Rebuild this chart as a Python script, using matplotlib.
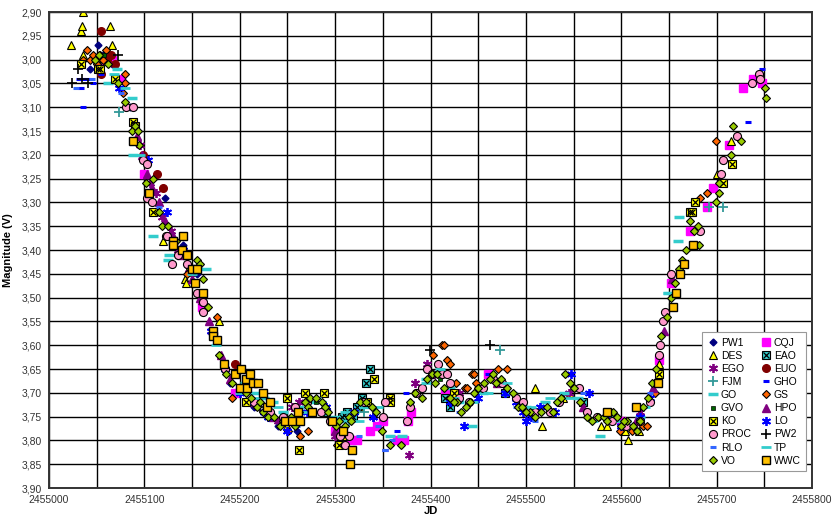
import matplotlib
matplotlib.use("Agg")
import matplotlib.pyplot as plt
from matplotlib.ticker import MultipleLocator, FuncFormatter

plt.rcParams['font.family'] = ['Liberation Sans', 'DejaVu Sans']

JD0 = 2455000

# observations per observer: (JD - 2455000, V magnitude)
PW1 = [(43, 3.02), (51, 2.97), (57, 2.99), (66, 3.01), (85, 3.10), (122, 3.29), (140, 3.39),
       (155, 3.45), (165, 3.52), (190, 3.68), (215, 3.73), (240, 3.77), (260, 3.78)]
CQJ = [(60, 3.00), (66, 3.00), (75, 3.04), (100, 3.24), (160, 3.52), (195, 3.70), (300, 3.78),
       (310, 3.79), (316, 3.80), (323, 3.80), (337, 3.78), (344, 3.77), (350, 3.76), (365, 3.80),
       (372, 3.80), (376, 3.76), (380, 3.74), (415, 3.70), (460, 3.66), (600, 3.76), (640, 3.63),
       (652, 3.47), (672, 3.36), (690, 3.31), (696, 3.27), (713, 3.18), (728, 3.06), (738, 3.04),
       (748, 3.05)]
DES = [(23, 2.97), (34, 2.94), (35, 2.93), (36, 2.90), (36, 2.99), (50, 3.00), (64, 2.93),
       (66, 2.97), (120, 3.38), (143, 3.46), (144, 3.47), (178, 3.55), (250, 3.77), (325, 3.73),
       (510, 3.69), (517, 3.77), (539, 3.71), (546, 3.70), (579, 3.77), (585, 3.77), (604, 3.78),
       (607, 3.80), (619, 3.78), (640, 3.64), (700, 3.24), (715, 3.17)]
EAO = [(290, 3.74), (300, 3.76), (307, 3.75), (312, 3.74), (319, 3.75), (323, 3.73), (328, 3.71),
       (332, 3.68), (337, 3.65), (415, 3.71), (420, 3.73), (478, 3.70), (560, 3.72)]
EGO = [(90, 3.14), (95, 3.18), (100, 3.21), (106, 3.26), (112, 3.28), (118, 3.33), (128, 3.36),
       (135, 3.40), (147, 3.44), (160, 3.51), (170, 3.57), (185, 3.65), (240, 3.76), (255, 3.73),
       (262, 3.72), (300, 3.79), (340, 3.75), (377, 3.83), (384, 3.68), (396, 3.64), (412, 3.66),
       (430, 3.70), (545, 3.70), (620, 3.74)]
EUO = [(55, 2.94), (55, 3.03), (61, 3.00), (65, 2.99), (69, 3.01), (98, 3.20), (113, 3.24),
       (120, 3.27), (195, 3.64)]
FJM = [(73, 3.11), (315, 3.76), (330, 3.74), (473, 3.61), (692, 3.31), (707, 3.31)]
GHO = [(31, 3.04), (33, 3.06), (35, 3.04), (36, 3.10), (40, 3.04), (46, 3.05), (55, 3.03),
       (352, 3.82), (358, 3.81), (365, 3.78), (374, 3.70), (460, 3.66), (733, 3.13), (748, 3.02)]
GO = [(62, 3.05), (71, 3.02), (87, 3.08), (88, 3.20), (109, 3.37), (125, 3.42), (126, 3.41),
      (165, 3.44), (205, 3.68), (225, 3.71), (245, 3.74), (262, 3.73), (285, 3.72), (300, 3.75),
      (320, 3.74), (357, 3.79), (370, 3.79), (405, 3.66), (420, 3.69), (443, 3.77), (470, 3.67),
      (500, 3.73), (540, 3.70), (578, 3.79), (590, 3.75), (620, 3.75), (649, 3.49), (659, 3.38),
      (661, 3.33), (215, 3.70), (235, 3.72), (255, 3.75), (275, 3.72), (310, 3.76), (330, 3.73),
      (395, 3.67), (430, 3.72), (455, 3.70), (485, 3.70), (520, 3.72), (555, 3.71), (605, 3.76)]
GS = [(36, 3.00), (40, 2.98), (43, 3.00), (46, 2.99), (50, 3.01), (53, 2.99), (57, 3.00),
      (60, 2.98), (78, 3.07), (80, 3.03), (80, 3.05), (145, 3.45), (176, 3.54), (192, 3.71),
      (251, 3.78), (263, 3.79), (272, 3.78), (302, 3.81), (403, 3.62), (412, 3.60), (414, 3.60),
      (417, 3.63), (420, 3.64), (427, 3.68), (436, 3.69), (438, 3.69), (443, 3.66), (446, 3.66),
      (448, 3.68), (450, 3.69), (471, 3.65), (480, 3.65), (599, 3.78), (611, 3.78), (623, 3.77),
      (627, 3.77), (635, 3.70), (683, 3.29), (690, 3.28), (699, 3.17)]
GVO = [(58, 2.99), (150, 3.45), (230, 3.74), (280, 3.72), (410, 3.67), (520, 3.73), (600, 3.77)]
HPO = [(92, 3.16), (97, 3.20), (103, 3.24), (108, 3.27), (115, 3.30), (122, 3.34), (130, 3.37),
       (138, 3.41), (150, 3.46), (158, 3.50), (168, 3.55), (180, 3.62), (190, 3.67), (215, 3.72),
       (235, 3.75), (300, 3.78), (400, 3.66), (470, 3.68), (560, 3.73), (615, 3.76), (633, 3.69),
       (645, 3.57), (653, 3.46)]
KO = [(34, 3.01), (51, 3.02), (53, 3.02), (69, 3.04), (88, 3.13), (90, 3.14), (109, 3.32),
      (206, 3.72), (249, 3.71), (262, 3.82), (268, 3.70), (288, 3.70), (304, 3.81), (310, 3.79),
      (333, 3.72), (341, 3.67), (357, 3.71), (358, 3.72), (425, 3.70), (640, 3.66), (672, 3.32),
      (674, 3.32), (677, 3.30), (707, 3.26), (716, 3.22)]
LO = [(73, 3.06), (104, 3.21), (124, 3.32), (140, 3.40), (170, 3.57), (185, 3.65), (200, 3.70),
      (215, 3.72), (230, 3.75), (250, 3.78), (290, 3.73), (320, 3.74), (340, 3.75), (420, 3.72),
      (435, 3.77), (478, 3.70), (497, 3.74), (500, 3.76), (505, 3.75), (515, 3.73), (547, 3.66),
      (566, 3.70), (585, 3.75), (600, 3.77), (620, 3.75), (630, 3.71), (225, 3.74), (270, 3.74),
      (450, 3.71), (490, 3.72), (530, 3.74)]
PROC = [(81, 3.10), (88, 3.10), (98, 3.21), (103, 3.22), (103, 3.29), (108, 3.30), (123, 3.37),
        (124, 3.37), (129, 3.43), (135, 3.41), (145, 3.43), (155, 3.49), (161, 3.51), (161, 3.53),
        (185, 3.65), (200, 3.69), (215, 3.72), (232, 3.74), (245, 3.75), (258, 3.73), (270, 3.72),
        (285, 3.74), (295, 3.76), (305, 3.79), (310, 3.81), (315, 3.79), (330, 3.72), (350, 3.75),
        (352, 3.72), (375, 3.76), (378, 3.73), (385, 3.70), (391, 3.69), (396, 3.65), (402, 3.66),
        (408, 3.64), (412, 3.66), (417, 3.66), (420, 3.68), (430, 3.71), (440, 3.72), (455, 3.69),
        (465, 3.67), (475, 3.68), (490, 3.71), (497, 3.72), (510, 3.74), (525, 3.74), (535, 3.72),
        (556, 3.69), (564, 3.74), (575, 3.75), (590, 3.76), (605, 3.77), (620, 3.76), (630, 3.72),
        (640, 3.62), (641, 3.60), (644, 3.55), (646, 3.53), (652, 3.45), (683, 3.36), (705, 3.24),
        (707, 3.21), (721, 3.16), (737, 3.05), (744, 3.03), (745, 3.04)]
PW2 = [(24, 3.05), (30, 3.02), (35, 3.04), (41, 3.05), (72, 2.99), (221, 3.73), (399, 3.61),
       (462, 3.60)]
RLO = [(28, 3.06), (45, 3.04), (75, 3.07), (115, 3.31), (260, 3.77), (325, 3.79), (345, 3.77),
       (352, 3.82), (360, 3.80), (380, 3.72), (430, 3.74), (490, 3.73), (510, 3.76), (560, 3.70),
       (630, 3.70)]
TP = [(68, 3.03), (80, 3.06), (95, 3.20), (150, 3.45), (175, 3.60), (200, 3.70), (220, 3.71),
      (240, 3.73), (265, 3.74), (280, 3.71), (310, 3.74), (325, 3.76), (345, 3.73), (395, 3.68),
      (410, 3.65), (425, 3.71), (445, 3.72), (460, 3.70), (480, 3.68), (505, 3.73), (525, 3.71),
      (545, 3.71), (570, 3.76), (600, 3.76), (625, 3.73), (649, 3.49)]
VO = [(48, 3.00), (52, 2.99), (62, 3.01), (72, 3.05), (80, 3.09), (87, 3.15), (90, 3.14),
      (93, 3.15), (94, 3.18), (102, 3.26), (109, 3.25), (115, 3.32), (118, 3.35), (125, 3.35),
      (133, 3.38), (140, 3.40), (148, 3.44), (155, 3.42), (158, 3.43), (161, 3.46), (167, 3.52),
      (172, 3.57), (178, 3.62), (186, 3.66), (192, 3.68), (200, 3.69), (206, 3.70), (212, 3.71),
      (218, 3.73), (224, 3.74), (230, 3.75), (236, 3.75), (242, 3.77), (248, 3.76), (254, 3.75),
      (258, 3.77), (262, 3.74), (268, 3.72), (274, 3.71), (280, 3.71), (286, 3.72), (292, 3.74),
      (298, 3.76), (304, 3.76), (310, 3.77), (314, 3.75), (320, 3.74), (326, 3.72), (332, 3.72),
      (343, 3.74), (349, 3.78), (357, 3.81), (369, 3.81), (378, 3.72), (384, 3.70), (391, 3.71),
      (396, 3.67), (402, 3.66), (407, 3.66), (414, 3.69), (420, 3.71), (428, 3.72), (432, 3.74),
      (437, 3.73), (441, 3.72), (450, 3.69), (456, 3.68), (462, 3.67), (469, 3.68), (474, 3.67),
      (480, 3.69), (486, 3.70), (492, 3.73), (496, 3.73), (504, 3.74), (510, 3.75), (516, 3.74),
      (522, 3.73), (528, 3.74), (533, 3.72), (541, 3.66), (546, 3.68), (550, 3.69), (557, 3.72),
      (564, 3.75), (569, 3.76), (576, 3.75), (582, 3.75), (591, 3.74), (595, 3.75), (600, 3.77),
      (606, 3.76), (612, 3.77), (616, 3.78), (623, 3.73), (628, 3.71), (632, 3.68), (636, 3.65),
      (642, 3.58), (648, 3.54), (652, 3.50), (656, 3.47), (660, 3.44), (664, 3.42), (668, 3.40),
      (672, 3.34), (676, 3.36), (680, 3.35), (681, 3.39), (699, 3.30), (702, 3.26), (702, 3.28),
      (715, 3.20), (717, 3.14), (726, 3.17), (751, 3.06), (752, 3.08), (221, 3.72), (245, 3.76),
      (271, 3.73), (289, 3.73), (301, 3.77), (317, 3.76), (339, 3.73), (405, 3.68), (425, 3.72),
      (446, 3.70), (465, 3.66), (500, 3.74), (537, 3.71), (585, 3.76), (603, 3.76), (620, 3.76)]
WWC = [(88, 3.17), (105, 3.28), (130, 3.38), (130, 3.39), (139, 3.40), (140, 3.37), (145, 3.41),
       (150, 3.44), (153, 3.47), (155, 3.44), (161, 3.49), (172, 3.57), (172, 3.58), (176, 3.59),
       (183, 3.64), (195, 3.66), (200, 3.69), (201, 3.65), (207, 3.67), (208, 3.69), (211, 3.66),
       (214, 3.68), (219, 3.68), (224, 3.70), (229, 3.73), (232, 3.72), (247, 3.76), (255, 3.76),
       (261, 3.74), (263, 3.76), (276, 3.74), (297, 3.76), (308, 3.78), (316, 3.85), (318, 3.82),
       (585, 3.74), (615, 3.73), (638, 3.68), (654, 3.52), (657, 3.49), (662, 3.45), (666, 3.43),
       (675, 3.39)]

# legend is read row by row in the original (two columns)
series = [
    ("PW1", PW1, dict(marker="D", ms=3.5, mfc="#000080", mec="#000080")),
    ("CQJ", CQJ, dict(marker="s", ms=5.5, mfc="#FF00FF", mec="#FF00FF")),
    ("DES", DES, dict(marker="^", ms=5.5, mfc="#FFFF00", mec="black", mew=0.8)),
    ("EAO", EAO, dict(marker="s", ms=5.5, mfc="#33CCCC", mec="black", mew=0.8, xbox=True)),
    ("EGO", EGO, dict(marker=(6, 2, 0), ms=6.5, mec="#800080", mew=1.3)),
    ("EUO", EUO, dict(marker="o", ms=5.5, mfc="#800000", mec="#800000")),
    ("FJM", FJM, dict(marker="+", ms=6.5, mec="#339999", mew=1.3)),
    ("GHO", GHO, dict(marker="_", ms=4.5, mec="#0000FF", mew=2.2)),
    ("GO", GO, dict(marker="_", ms=7, mec="#33CCCC", mew=2.5)),
    ("GS", GS, dict(marker="D", ms=4.5, mfc="#FF6600", mec="black", mew=0.8)),
    ("GVO", GVO, dict(marker="s", ms=3.5, mfc="#006400", mec="black", mew=0.5)),
    ("HPO", HPO, dict(marker="^", ms=5.5, mfc="#800080", mec="#800080")),
    ("KO", KO, dict(marker="s", ms=5.5, mfc="#FFFF00", mec="black", mew=0.8, xbox=True)),
    ("LO", LO, dict(marker=(6, 2, 0), ms=6.5, mec="#0000FF", mew=1.3)),
    ("PROC", PROC, dict(marker="o", ms=5.8, mfc="#FF99CC", mec="black", mew=0.8)),
    ("PW2", PW2, dict(marker="+", ms=6.5, mec="black", mew=1.2)),
    ("RLO", RLO, dict(marker="_", ms=4.5, mec="#3366FF", mew=2.2)),
    ("TP", TP, dict(marker="_", ms=7, mec="#33CCCC", mew=2.0)),
    ("VO", VO, dict(marker="D", ms=4.5, mfc="#99CC00", mec="black", mew=0.8)),
    ("WWC", WWC, dict(marker="s", ms=5.8, mfc="#FFC000", mec="black", mew=1.0)),
]

fig = plt.figure(figsize=(8.34, 5.21), dpi=100)
ax = fig.add_axes([0.0588, 0.0633, 0.9149, 0.9136])

handles = []
labels = []
for name, data, st in series:
    st = dict(st)
    xbox = st.pop("xbox", False)
    x = [JD0 + d for d, m in data]
    y = [m for d, m in data]
    h = ax.plot(x, y, linestyle="none", **st)[0]
    if xbox:
        hx = ax.plot(x, y, linestyle="none", marker="x", ms=st["ms"] * 0.75,
                     mec="black", mew=0.9)[0]
        h = (h, hx)
    handles.append(h)
    labels.append(name)

ax.set_xlim(2455000, 2455800)
ax.set_ylim(3.90, 2.90)
ax.xaxis.set_major_locator(MultipleLocator(100))
ax.xaxis.set_minor_locator(MultipleLocator(50))
ax.yaxis.set_major_locator(MultipleLocator(0.05))
ax.xaxis.set_major_formatter(FuncFormatter(lambda v, p: f"{int(round(v))}"))
ax.yaxis.set_major_formatter(FuncFormatter(lambda v, p: f"{v:.2f}".replace(".", ",")))
ax.set_axisbelow(True)
ax.grid(True, which="both", color="black", lw=1.0)
ax.tick_params(which="both", length=0, labelsize=7.5, colors="#333333", pad=5)
for sp in ax.spines.values():
    sp.set_linewidth(1.4)
    sp.set_color("#333333")

ax.set_xlabel("JD", fontsize=8, fontweight="bold", labelpad=1)
ax.set_ylabel("Magnitude (V)", fontsize=8, fontweight="bold", labelpad=6)

# matplotlib fills legend columns first, so reorder to match row-wise layout
order = list(range(0, len(handles), 2)) + list(range(1, len(handles), 2))
leg = ax.legend([handles[i] for i in order], [labels[i] for i in order], ncol=2,
                loc="lower right", bbox_to_anchor=(0.999, 0.025), fontsize=7.5,
                fancybox=False, edgecolor="#999999", framealpha=1.0,
                handlelength=1.0, handletextpad=0.3, columnspacing=0.9,
                labelspacing=0.3, borderpad=0.5)
leg.get_frame().set_linewidth(0.8)
leg.set_zorder(10)

fig.savefig("out.png", dpi=100)
